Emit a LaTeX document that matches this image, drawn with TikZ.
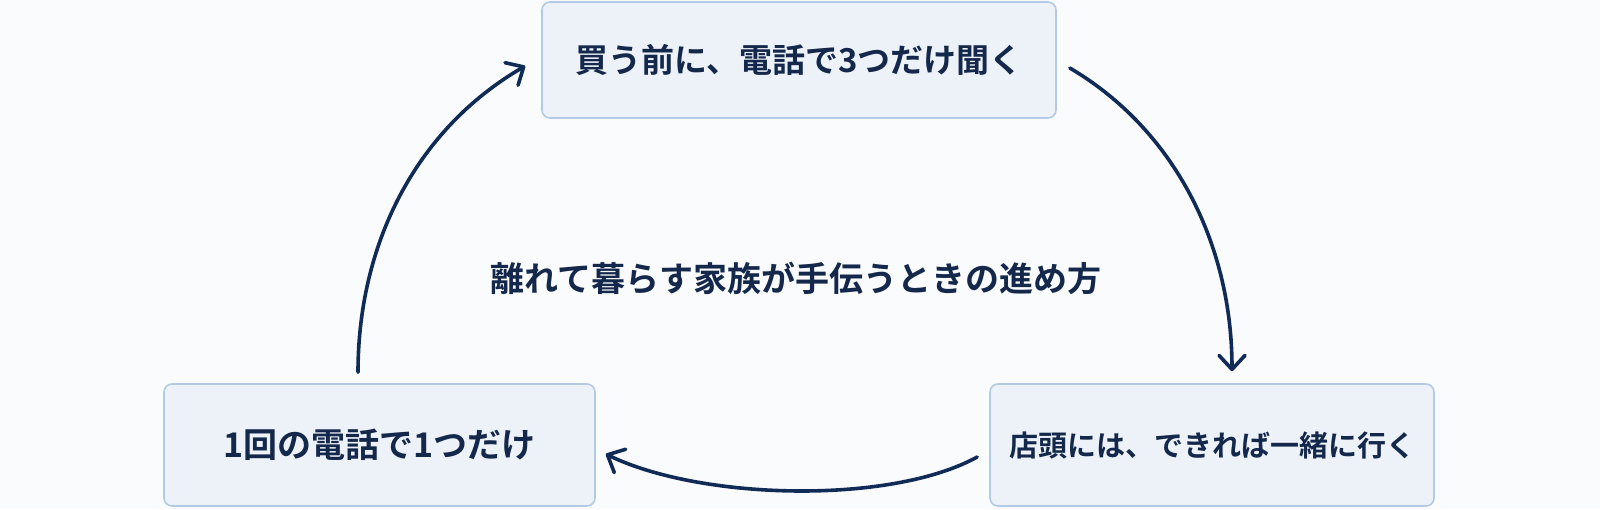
\documentclass[tikz,border=0pt]{standalone}
\usepackage{fontspec}
\usetikzlibrary{arrows.meta,calc}
\newfontfamily\jp{Noto Sans CJK JP}[BoldFont={Noto Sans CJK JP Bold}]
\definecolor{bgc}{HTML}{FAFBFD}
\definecolor{boxfill}{HTML}{EDF2F9}
\definecolor{boxline}{HTML}{B3CAE6}
\definecolor{txt}{HTML}{14284B}
\definecolor{arr}{HTML}{102B55}
\tikzset{
  stepbox/.style={rectangle, rounded corners=4pt, fill=boxfill, draw=boxline, line width=0.8pt, align=center, text=txt, font=\jp\bfseries},
  flow/.style={draw=arr, line width=1.8pt, line cap=round, -{Straight Barb[length=7pt,width=13pt,line cap=round,line join=round]}}
}
\begin{document}
\begin{tikzpicture}[x=0.5pt,y=-0.5pt]
\fill[bgc] (0,0) rectangle (1600,509);
\useasboundingbox (0,0) rectangle (1600,509);
\node[stepbox, minimum width=257pt, minimum height=58pt, font=\jp\bfseries\fontsize{16.5pt}{20pt}\selectfont] (top) at (799,60) {買う前に、電話で3つだけ聞く};
\node[stepbox, minimum width=215.5pt, minimum height=61pt, font=\jp\bfseries\fontsize{17pt}{20pt}\selectfont] (bl) at (379.5,445) {1回の電話で1つだけ};
\node[stepbox, minimum width=222pt, minimum height=61pt, font=\jp\bfseries\fontsize{14.5pt}{18pt}\selectfont] (br) at (1212,445) {店頭には、できれば一緒に行く};
\node[text=txt, font=\jp\bfseries\fontsize{17pt}{20pt}\selectfont] (title) at (796,278) {離れて暮らす家族が手伝うときの進め方};
\coordinate (s1) at ($(top.east)+(13,8)$);
\coordinate (e1) at ($(br.north)+(20,-12)$);
\coordinate (s2) at ($(br.west)+(-12,12)$);
\coordinate (e2) at ($(bl.east)+(10,9)$);
\coordinate (s3) at ($(bl.north)+(-21.5,-11)$);
\coordinate (e3) at ($(top.west)+(-16,6)$);
\draw[flow] (s1) .. controls (1175,130) and (1232,245) .. (e1);
\draw[flow] (s2) .. controls (890,505) and (700,500) .. (e2);
\draw[flow] (s3) .. controls (358,245) and (415,130) .. (e3);
\end{tikzpicture}
\end{document}
